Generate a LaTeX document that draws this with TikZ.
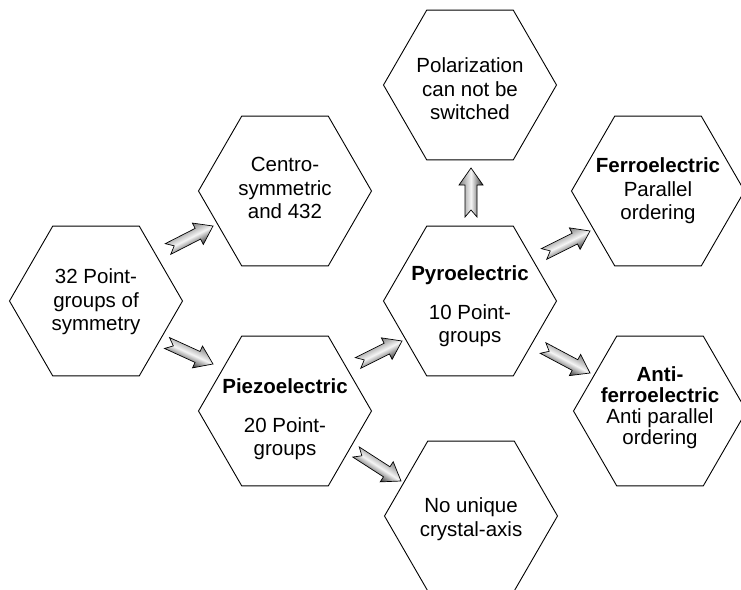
\documentclass[tikz,border=0pt]{standalone}
\usepackage{fontspec}
\setmainfont{Liberation Sans}
\usetikzlibrary{shapes.geometric,calc}

\tikzset{
  hexa/.style={regular polygon, regular polygon sides=6, minimum size=173pt,
    inner sep=0pt, draw=black, line width=0.9pt},
  hextext/.style={align=center, inner sep=0pt,
    font=\fontsize{20.5}{23.5}\selectfont},
  fatarrow/.style={draw=black, line width=0.7pt, line join=miter,
    top color=black!50, bottom color=black!80, middle color=gray!8}
}

% notched block arrow from coordinate #1 to coordinate #2,
% built along its own axis so that the shading runs across the shaft
\newcommand\fatarrow[2]{%
  \path let \p1=($(#2)-(#1)$), \n1={atan2(\y1,\x1)}, \n2={veclen(\x1,\y1)} in
    \pgfextra{\pgfmathsetmacro\tmpang{\n1}\xdef\fatang{\tmpang}%
              \pgfmathsetmacro\tmplen{\n2}\xdef\fatlen{\tmplen}};
  \path[fatarrow, transform canvas={shift={(#1)}, rotate=\fatang}]
    (7,0) -- (0,6) -- ({\fatlen-17},6) -- ({\fatlen-17},12) -- (\fatlen,0)
    -- ({\fatlen-17},-12) -- ({\fatlen-17},-6) -- (0,-6) -- cycle;
}

\begin{document}
\begin{tikzpicture}[x=1pt, y=-1pt]
  \useasboundingbox (0,0) rectangle (741,589);

  % hexagons
  \node[hexa] (n32)    at (96,301)  {};
  \node[hexa] (centro) at (285,191) {};
  \node[hexa] (polar)  at (470,85)  {};
  \node[hexa] (pyro)   at (470,301) {};
  \node[hexa] (piezo)  at (285,411) {};
  \node[hexa] (ferro)  at (658,191) {};
  \node[hexa] (anti)   at (660,411) {};
  \node[hexa] (nouniq) at (471,516) {};

  % texts
  \node[hextext] (t32)     at ($(n32)+(0,1)$)    {32 Point-\\groups of\\symmetry};
  \node[hextext] (tcentro) at ($(centro)+(0,-3)$) {Centro-\\symmetric\\and 432};
  \node[hextext] (tpolar)  at ($(polar)+(0,4)$)  {Polarization\\can not be\\switched};
  \node[hextext] (tpyro)   at ($(pyro)+(0,5)$) {\textbf{Pyroelectric}\\[15.5pt]10 Point-\\groups};
  \node[hextext] (tpiezo)  at ($(piezo)+(0,8)$) {\textbf{Piezoelectric}\\[15.5pt]20 Point-\\groups};
  \node[hextext] (tferro)  at ($(ferro)+(0,0)$)  {\textbf{Ferroelectric}\\Parallel\\ordering};
  \node[hextext, font=\fontsize{20.5}{21}\selectfont] (tanti) at ($(anti)+(0,-3)$)
    {\textbf{Anti-}\\\textbf{ferroelectric}\\Anti parallel\\ordering};
  \node[hextext] (tnouniq) at ($(nouniq)+(0,3)$) {No unique\\crystal-axis};

  % arrow end points
  \coordinate (a1t) at (168,249); \coordinate (a1h) at (213,226);
  \coordinate (a2t) at (167,343); \coordinate (a2h) at (213,364);
  \coordinate (a3t) at (358,363); \coordinate (a3h) at (402,341);
  \coordinate (a4t) at (356,452); \coordinate (a4h) at (401,481);
  \coordinate (a5t) at (471,217); \coordinate (a5h) at (471,168);
  \coordinate (a6t) at (544,254); \coordinate (a6h) at (590,231);
  \coordinate (a7t) at (543,348); \coordinate (a7h) at (590,373);

  \fatarrow{a1t}{a1h}
  \fatarrow{a2t}{a2h}
  \fatarrow{a3t}{a3h}
  \fatarrow{a4t}{a4h}
  \fatarrow{a5t}{a5h}
  \fatarrow{a6t}{a6h}
  \fatarrow{a7t}{a7h}
\end{tikzpicture}
\end{document}
